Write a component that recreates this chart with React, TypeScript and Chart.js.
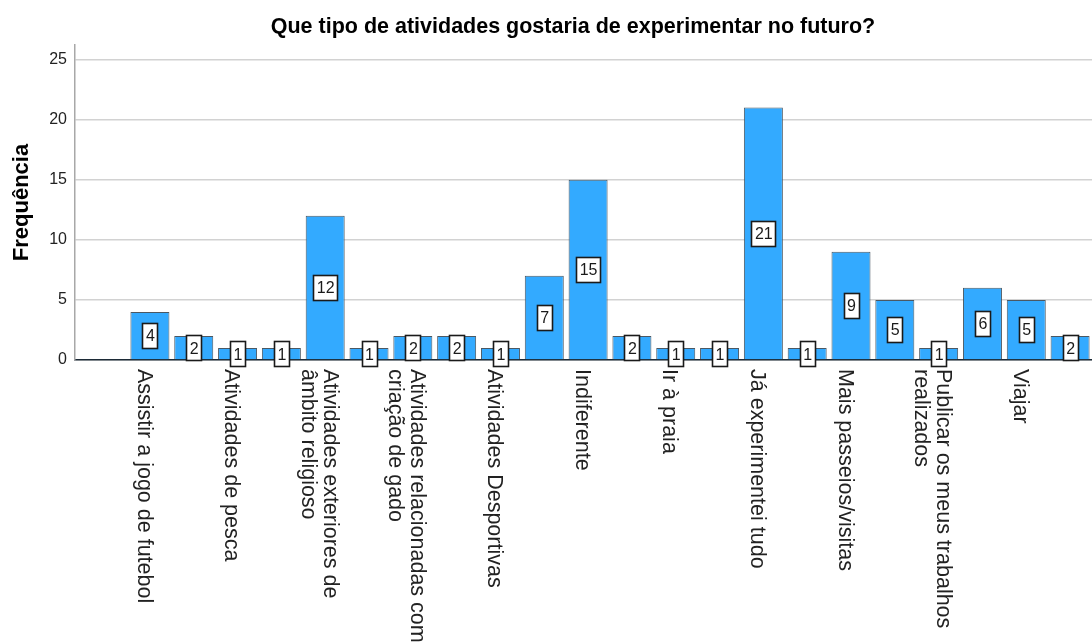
import React, { useEffect, useRef } from "react";
import { Chart, registerables } from "chart.js";

Chart.register(...registerables);

const TITLE = "Que tipo de atividades gostaria de experimentar no futuro?";
const Y_TITLE = "Frequência";

// Category labels (multi-line labels as arrays of lines)
const categories: string[][] = [
  ["Assistir a jogo de futebol"],
  ["Atividades artísticas"],
  ["Atividades de pesca"],
  ["Atividades de voluntariado"],
  ["Atividades exteriores de", "âmbito religioso"],
  ["Atividades manuais"],
  ["Atividades relacionadas com", "criação de gado"],
  ["Atividades ao ar livre"],
  ["Atividades Desportivas"],
  ["Fazer novos amigos"],
  ["Indiferente"],
  ["Ir ao cinema"],
  ["Ir à praia"],
  ["Ir ao teatro"],
  ["Já experimentei tudo"],
  ["Jogos tradicionais"],
  ["Mais passeios/visitas"],
  ["Passeios de barco"],
  ["Publicar os meus trabalhos", "realizados"],
  ["Visitar museus"],
  ["Viajar"],
  ["Workshops"],
];

const frequencies: number[] = [4, 2, 1, 1, 12, 1, 2, 2, 1, 7, 15, 2, 1, 1, 21, 1, 9, 5, 1, 6, 5, 2];

const yTicks: number[] = [0, 5, 10, 15, 20, 25];

const FONT = '"Liberation Sans", Arial, Helvetica, sans-serif';

export default function App() {
  const canvasRef = useRef<HTMLCanvasElement | null>(null);

  useEffect(() => {
    const canvas = canvasRef.current;
    if (!canvas) return;

    const valueLabels = {
      id: "valueLabels",
      afterDatasetsDraw(chart: any) {
        const ctx = chart.ctx;
        const meta = chart.getDatasetMeta(0);
        ctx.save();
        ctx.font = `16px ${FONT}`;
        ctx.textAlign = "center";
        ctx.textBaseline = "middle";
        meta.data.forEach((bar: any, i: number) => {
          const p = bar.getProps(["x", "y", "base"], true);
          const cy = (p.y + p.base) / 2;
          const text = String(frequencies[i]);
          const w = Math.round(ctx.measureText(text).width + 6);
          const h = 25;
          const bx = Math.round(p.x - w / 2) + 0.5;
          const by = Math.round(cy - h / 2) + 0.5;
          ctx.fillStyle = "#ffffff";
          ctx.fillRect(bx, by, w, h);
          ctx.strokeStyle = "#1a1a1a";
          ctx.lineWidth = 1.6;
          ctx.strokeRect(bx, by, w, h);
          ctx.fillStyle = "#1a1a1a";
          ctx.fillText(text, p.x + 0.5, cy + 1.5);
        });
        ctx.restore();
      },
    };

    const categoryLabels = {
      id: "categoryLabels",
      afterDraw(chart: any) {
        const ctx = chart.ctx;
        const xs = chart.scales.x;
        const top = chart.chartArea.bottom + 9;
        ctx.save();
        ctx.font = `21.5px ${FONT}`;
        ctx.fillStyle = "#222222";
        ctx.textAlign = "left";
        ctx.textBaseline = "middle";
        categories.forEach((lines, i) => {
          if (i % 2 !== 0) return;
          const cx = xs.getPixelForValue(i) - 6.5;
          const n = lines.length;
          lines.forEach((line, j) => {
            const lx = cx + ((n - 1) / 2 - j) * 22;
            ctx.save();
            ctx.translate(lx, top);
            ctx.rotate(Math.PI / 2);
            ctx.fillText(line, 0, 0);
            ctx.restore();
          });
        });
        // Title
        ctx.font = `bold 21.5px ${FONT}`;
        ctx.fillStyle = "#000000";
        ctx.textAlign = "center";
        ctx.textBaseline = "alphabetic";
        ctx.fillText(TITLE, 573, 33);
        ctx.restore();
      },
    };

    const chart = new Chart(canvas, {
      type: "bar",
      data: {
        datasets: [
          {
            label: Y_TITLE,
            data: frequencies.map((v, i) => ({ x: i, y: v })),
            backgroundColor: "#33aaff",
            borderColor: "#4b5863",
            borderWidth: 1,
            barPercentage: 0.89,
            categoryPercentage: 1,
          },
        ],
      },
      options: {
        responsive: false,
        animation: false,
        events: [],
        layout: { padding: { top: 45, bottom: 283, left: 0, right: 0 } },
        plugins: {
          legend: { display: false },
          tooltip: { enabled: false },
          title: { display: false },
        },
        scales: {
          x: {
            type: "linear",
            min: -1.71,
            max: 21.5,
            offset: false,
            grid: { display: false, drawTicks: false },
            ticks: { display: false },
            border: { display: true, color: "#1c2a36", width: 1.5 },
            afterFit: (s: any) => {
              s.height = 0;
            },
          },
          y: {
            type: "linear",
            min: 0,
            max: 26.2,
            afterBuildTicks: (s: any) => {
              s.ticks = yTicks.map((v) => ({ value: v }));
            },
            ticks: {
              padding: 8,
              color: "#222222",
              font: { family: FONT, size: 16 },
              includeBounds: false,
            },
            grid: { color: "#d2d2d2", lineWidth: 1.5, drawTicks: false },
            border: { display: true, color: "#a8a8a8", width: 1.5 },
            title: {
              display: true,
              text: Y_TITLE,
              color: "#000000",
              font: { family: FONT, size: 22, weight: "bold" },
              padding: { top: 9, bottom: 0 },
            },
            afterFit: (s: any) => {
              s.width = 75;
            },
          },
        },
      },
      plugins: [valueLabels, categoryLabels],
    });

    return () => chart.destroy();
  }, []);

  return (
    <div style={{ position: "absolute", left: 0, top: 0, width: 1092, height: 643, background: "#fff" }}>
      <canvas ref={canvasRef} width={1092} height={643} />
    </div>
  );
}
